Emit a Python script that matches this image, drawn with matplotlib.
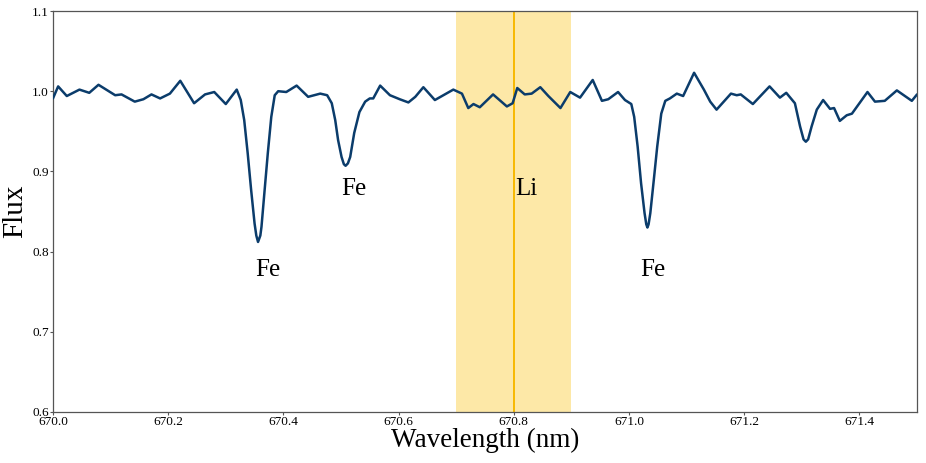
import numpy as np
import matplotlib
matplotlib.use("Agg")
import matplotlib.pyplot as plt

plt.rcParams["font.family"] = ["Liberation Serif", "DejaVu Serif"]

# spectrum
wavelength = [
    670.000, 670.009, 670.024, 670.046, 670.063, 670.079, 670.108, 670.119,
    670.142, 670.157, 670.171, 670.186, 670.203, 670.221, 670.245, 670.264,
    670.280, 670.300, 670.319, 670.326, 670.332, 670.338, 670.344, 670.350,
    670.353, 670.356, 670.360, 670.362, 670.367, 670.373, 670.379, 670.385,
    670.391, 670.405, 670.423, 670.443, 670.464, 670.476, 670.484, 670.490,
    670.495, 670.501, 670.505, 670.508, 670.512, 670.516, 670.523, 670.532,
    670.542, 670.550, 670.556, 670.568, 670.585, 670.602, 670.617, 670.629,
    670.643, 670.663, 670.695, 670.710, 670.721, 670.730, 670.741, 670.764,
    670.788, 670.798, 670.806, 670.819, 670.831, 670.846, 670.860, 670.881,
    670.898, 670.915, 670.937, 670.953, 670.964, 670.981, 670.993, 671.004,
    671.009, 671.015, 671.021, 671.027, 671.030, 671.032, 671.034, 671.037,
    671.043, 671.049, 671.056, 671.063, 671.071, 671.083, 671.094, 671.113,
    671.130, 671.141, 671.152, 671.177, 671.187, 671.194, 671.215, 671.244,
    671.262, 671.273, 671.288, 671.297, 671.303, 671.307, 671.311, 671.317,
    671.326, 671.337, 671.349, 671.356, 671.366, 671.378, 671.387, 671.414,
    671.427, 671.444, 671.465, 671.491, 671.500,
]
flux = [
    0.991, 1.006, 0.994, 1.002, 0.998, 1.008, 0.995, 0.996,
    0.987, 0.990, 0.996, 0.991, 0.997, 1.013, 0.985, 0.996,
    0.999, 0.984, 1.002, 0.989, 0.964, 0.923, 0.877, 0.835,
    0.820, 0.812, 0.820, 0.831, 0.873, 0.923, 0.968, 0.995,
    1.000, 0.999, 1.007, 0.993, 0.997, 0.995, 0.985, 0.964,
    0.939, 0.918, 0.909, 0.907, 0.910, 0.918, 0.948, 0.974,
    0.987, 0.991, 0.991, 1.007, 0.995, 0.990, 0.986, 0.993,
    1.005, 0.989, 1.002, 0.997, 0.979, 0.984, 0.980, 0.996,
    0.981, 0.985, 1.004, 0.996, 0.997, 1.005, 0.994, 0.979,
    0.999, 0.992, 1.014, 0.988, 0.990, 0.999, 0.989, 0.984,
    0.968, 0.931, 0.885, 0.848, 0.834, 0.830, 0.834, 0.848,
    0.889, 0.931, 0.972, 0.988, 0.991, 0.997, 0.994, 1.023,
    1.002, 0.987, 0.977, 0.997, 0.995, 0.996, 0.984, 1.006,
    0.992, 0.998, 0.985, 0.956, 0.940, 0.937, 0.940, 0.956,
    0.977, 0.989, 0.978, 0.979, 0.963, 0.970, 0.972, 0.999,
    0.987, 0.988, 1.001, 0.988, 0.996,
]

li_band = (670.7, 670.9)
li_line = 670.8

labels = ["Fe", "Fe", "Li", "Fe"]
label_x = [670.373, 670.523, 670.821, 671.042]
label_y = [0.777, 0.878, 0.878, 0.777]

fig = plt.figure(figsize=(9.26, 4.63), dpi=100)
ax = fig.add_axes([0.0572, 0.1102, 0.9331, 0.866])

ax.axvspan(li_band[0], li_band[1], color="#fde8a7", lw=0, zorder=1)
ax.axvline(li_line, color="#f7b800", lw=1.4, zorder=2)
ax.plot(wavelength, flux, color="#0b3c6b", lw=1.8, zorder=3,
        solid_joinstyle="round", solid_capstyle="round")

for txt, lx, ly in zip(labels, label_x, label_y):
    ax.text(lx, ly, txt, fontsize=18, ha="center", va="center", zorder=4)

ax.set_xlim(670.0, 671.5)
ax.set_ylim(0.6, 1.1)
ax.set_xticks(np.arange(670.0, 671.45, 0.2))
ax.set_yticks([0.6, 0.7, 0.8, 0.9, 1.0, 1.1])
ax.tick_params(labelsize=9.5, length=2, width=0.8, pad=1, color="#555555")
ax.set_xlabel("Wavelength (nm)", fontsize=19.5, labelpad=0)
ax.set_ylabel("Flux", fontsize=21, labelpad=3)
for sp in ax.spines.values():
    sp.set_color("#555555")
    sp.set_linewidth(0.9)

fig.savefig("out.png", dpi=100)
